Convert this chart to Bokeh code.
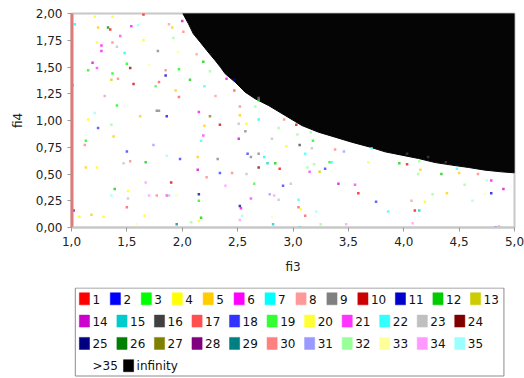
from bokeh.plotting import figure
from bokeh.layouts import column
from bokeh.models import Range1d, FixedTicker, ColumnDataSource
from bokeh.embed import file_html
from bokeh.resources import INLINE
from bokeh.core.properties import value

# ---------------- data ----------------
class_labels = [str(i) for i in range(1, 36)] + [">35", "infinity"]
class_colors = ["#FF0000", "#0000FF", "#00FF00", "#FFFF00", "#FFCC00", "#FF00FF", "#00FFFF",
                "#FF9999", "#808080", "#CC0000", "#0000CC", "#00CC00", "#CCCC00", "#CC00CC",
                "#00CCCC", "#404040", "#FF5050", "#3333FF", "#33FF33", "#FFFF33", "#FF33FF",
                "#33FFFF", "#C0C0C0", "#800000", "#000080", "#008000", "#808000", "#800080",
                "#008080", "#FF8080", "#9999FF", "#99FF99", "#FFFF99", "#FF99FF", "#99FFFF",
                "#FFFFFF", "#000000"]
legend_rows = [class_labels[0:13], class_labels[13:24], class_labels[24:35], class_labels[35:37]]

x_ticks = [1.0, 1.5, 2.0, 2.5, 3.0, 3.5, 4.0, 4.5, 5.0]
x_tick_labels = ["1,0", "1,5", "2,0", "2,5", "3,0", "3,5", "4,0", "4,5", "5,0"]
y_ticks = [0.0, 0.25, 0.5, 0.75, 1.0, 1.25, 1.5, 1.75, 2.0]
y_tick_labels = ["0,00", "0,25", "0,50", "0,75", "1,00", "1,25", "1,50", "1,75", "2,00"]

# boundary of the "infinity" region
boundary_fi3 = [2.005, 2.056, 2.10, 2.162, 2.222, 2.297, 2.345, 2.388, 2.478, 2.568, 2.658, 2.779,
                2.929, 3.080, 3.230, 3.381, 3.531, 3.700, 3.832, 3.983, 4.133, 4.284, 4.434,
                4.585, 4.735, 4.885, 5.0]
boundary_fi4 = [2.0, 1.904, 1.81, 1.732, 1.654, 1.561, 1.498, 1.436, 1.358, 1.265, 1.203, 1.140,
                1.047, 0.953, 0.891, 0.844, 0.797, 0.750, 0.707, 0.676, 0.645, 0.607, 0.583,
                0.561, 0.536, 0.520, 0.511]

# scattered points: fi3, fi4, class number
dot_fi3 = [1.21, 1.37, 1.65, 1.03, 1.24, 1.33, 1.35, 1.54, 1.60, 1.88, 1.91, 2.00, 2.01, 1.44, 1.65,
           1.23, 1.27, 1.37, 1.41, 1.92, 1.27, 1.48, 1.78, 1.96, 2.13, 1.19, 1.23, 1.50, 1.70, 1.53,
           2.19, 1.15, 1.37, 1.85, 1.97, 1.85, 2.25, 1.36, 1.42, 1.56, 1.79, 2.07, 1.01, 1.76, 1.94,
           2.20, 1.30, 1.97, 2.30, 1.41, 1.21, 1.77, 1.79, 1.62, 1.86, 2.15, 2.25, 1.15,
           2.40, 2.47, 2.47, 2.69, 2.69, 2.52, 2.66, 2.52, 2.58, 2.69, 2.92, 3.03, 2.34, 2.51, 2.57,
           2.87, 3.04, 3.16, 3.18, 2.51, 2.81, 2.94, 3.06, 3.17, 3.38,
           1.24, 1.36, 2.20, 1.13, 1.12, 1.38, 2.19, 2.17, 1.74, 1.50, 1.86, 1.53, 1.47, 1.67, 1.98,
           2.14, 2.32, 1.13, 1.23, 2.14, 2.22, 2.34, 1.67, 1.90, 1.39, 1.51, 1.36, 1.51, 1.70, 1.77,
           1.86, 1.88, 1.95, 2.15, 2.15, 1.50, 1.02, 1.07, 1.18, 1.29, 1.66, 1.59, 1.95, 2.08, 2.17,
           2.15,
           3.46, 2.59, 2.62, 2.69, 2.74, 3.11, 2.77, 2.84, 2.69, 2.88, 2.45, 2.58, 3.19, 3.13, 3.15,
           3.24, 3.29, 3.33, 3.35, 3.68, 2.65, 2.39, 2.98, 2.91, 3.41, 3.56, 3.59, 2.79, 2.83, 2.87,
           2.62, 3.05, 2.52, 2.53, 3.05, 3.07, 3.21, 3.11, 2.54, 2.52, 2.81, 2.82, 3.06, 3.25, 3.48,
           3.45,
           3.71, 4.03, 4.22, 3.96, 4.03, 4.14, 4.15, 4.13, 4.38, 4.34, 4.48, 4.50, 4.67, 4.75, 4.79,
           4.55, 4.90, 4.79, 4.73, 4.39, 4.62, 4.26, 3.75, 4.07, 4.19, 3.86, 4.10, 4.14, 4.08, 4.83,
           4.86]
dot_fi4 = [1.97, 1.97, 1.99, 1.90, 1.87, 1.87, 1.85, 1.88, 1.89, 1.90, 1.87, 1.93, 1.83, 1.79, 1.75,
           1.73, 1.70, 1.73, 1.69, 1.77, 1.65, 1.63, 1.65, 1.64, 1.62, 1.54, 1.49, 1.53, 1.52, 1.49,
           1.55, 1.47, 1.44, 1.47, 1.48, 1.42, 1.46, 1.38, 1.39, 1.34, 1.36, 1.38, 1.33, 1.32, 1.28,
           1.32, 1.23, 1.22, 1.23, 1.14, 1.07, 1.09, 1.09, 1.04, 1.04, 1.08, 1.04, 1.01,
           1.39, 1.38, 1.28, 1.21, 1.19, 1.13, 1.13, 1.05, 0.97, 1.01, 1.01, 0.96, 0.96, 0.97, 0.90,
           0.93, 0.87, 0.89, 0.81, 0.83, 0.83, 0.76, 0.77, 0.74, 0.73,
           0.93, 0.96, 0.95, 0.81, 0.77, 0.85, 0.86, 0.81, 0.77, 0.71, 0.67, 0.62, 0.60, 0.61, 0.64,
           0.66, 0.64, 0.56, 0.56, 0.54, 0.47, 0.51, 0.42, 0.42, 0.36, 0.34, 0.30, 0.27, 0.30, 0.30,
           0.30, 0.30, 0.30, 0.31, 0.25, 0.19, 0.16, 0.10, 0.12, 0.10, 0.11, 0.03, 0.03, 0.05, 0.09,
           0.06,
           0.71, 0.69, 0.66, 0.69, 0.66, 0.69, 0.60, 0.60, 0.56, 0.55, 0.51, 0.50, 0.59, 0.56, 0.52,
           0.52, 0.55, 0.61, 0.61, 0.61, 0.41, 0.39, 0.41, 0.39, 0.41, 0.40, 0.32, 0.31, 0.30, 0.26,
           0.27, 0.26, 0.20, 0.18, 0.19, 0.17, 0.15, 0.11, 0.11, 0.07, 0.10, 0.03, 0.00, 0.03, 0.03,
           0.00,
           0.74, 0.69, 0.66, 0.60, 0.59, 0.62, 0.54, 0.50, 0.61, 0.50, 0.55, 0.51, 0.50, 0.44, 0.44,
           0.40, 0.36, 0.32, 0.31, 0.32, 0.25, 0.31, 0.24, 0.25, 0.24, 0.15, 0.16, 0.16, 0.04, 0.00,
           0.01]
dot_class = [4, 4, 1, 7, 5, 26, 1, 6, 35, 8, 5, 14, 30, 21, 4,
             4, 6, 30, 23, 32, 6, 7, 9, 33, 8, 14, 21, 3, 33, 24,
             12, 3, 3, 30, 3, 11, 32, 13, 30, 10, 17, 12, 15, 19, 5,
             22, 8, 17, 8, 3, 35, 9, 9, 5, 2, 6, 27, 4,
             6, 11, 17, 9, 3, 30, 32, 5, 4, 7, 30, 10, 10, 23, 9,
             32, 32, 32, 3, 14, 23, 4, 16, 23, 30,
             18, 32, 5, 3, 30, 5, 21, 22, 31, 18, 35, 30, 23, 12, 18,
             5, 9, 5, 4, 14, 30, 18, 34, 10, 12, 4, 35, 23, 34, 30,
             21, 23, 33, 25, 3, 17, 28, 4, 5, 4, 4, 33, 29, 32, 12,
             4,
             31, 18, 9, 9, 7, 22, 15, 12, 24, 1, 30, 23, 32, 32, 21,
             13, 18, 3, 22, 20, 19, 34, 23, 18, 14, 21, 1, 31, 34, 23,
             21, 22, 25, 6, 17, 4, 35, 17, 35, 34, 33, 15, 15, 32, 34,
             33,
             22, 16, 16, 12, 1, 32, 5, 32, 16, 12, 22, 5, 30, 35, 6,
             32, 14, 11, 33, 5, 35, 32, 18, 8, 4, 22, 1, 15, 34, 18,
             8]

# column of class-1 points along fi3 = 1
edge_fi3 = [1.0, 1.0]
edge_fi4 = [0.0, 2.0]

FONT = "DejaVu Sans"

# ---------------- main plot ----------------
p = figure(width=524, height=287, x_range=Range1d(1, 5), y_range=Range1d(0, 2),
           output_backend="svg", toolbar_location=None,
           min_border_left=71, min_border_right=10, min_border_top=13, min_border_bottom=60,
           x_axis_label="fi3", y_axis_label="fi4")
p.grid.visible = False
p.background_fill_color = "white"
p.border_fill_color = "white"
p.outline_line_color = "#c8c8c8"
p.outline_line_width = 2

p.patch(x=boundary_fi3 + [5.0], y=boundary_fi4 + [2.0], fill_color="#050505", line_color="#050505")

src = ColumnDataSource(dict(x=dot_fi3, y=dot_fi4, c=[class_colors[k - 1] for k in dot_class]))
p.scatter("x", "y", source=src, marker="square", size=2.5, fill_color="c", line_color=None, fill_alpha=0.75)

p.line(edge_fi3, edge_fi4, line_color="#e07a7a", line_width=4)

p.xaxis.ticker = FixedTicker(ticks=x_ticks)
p.xaxis.major_label_overrides = dict(zip(x_ticks, x_tick_labels))
p.yaxis.ticker = FixedTicker(ticks=y_ticks)
p.yaxis.major_label_overrides = dict(zip(y_ticks, y_tick_labels))
for ax in (p.xaxis[0], p.yaxis[0]):
    ax.major_label_text_font = FONT
    ax.major_label_text_font_size = "12px"
    ax.major_label_text_color = "#222222"
    ax.axis_label_text_font = FONT
    ax.axis_label_text_font_size = "12px"
    ax.axis_label_text_font_style = "normal"
    ax.axis_label_text_color = "#222222"
    ax.major_tick_in = 0
    ax.major_tick_out = 4
    ax.minor_tick_in = 0
    ax.minor_tick_out = 0
    ax.major_tick_line_color = "#9a9a9a"
    ax.major_label_standoff = 5
    ax.axis_label_standoff = 8
p.xaxis.axis_label_standoff = 11
p.xaxis.axis_line_color = "#c8c8c8"
p.xaxis.axis_line_width = 2
p.yaxis.axis_line_color = "#e07a7a"
p.yaxis.axis_line_width = 2

# ---------------- legend ----------------
leg = figure(width=524, height=91, x_range=Range1d(0, 524), y_range=Range1d(378, 287),
             output_backend="svg", toolbar_location=None, min_border=0,
             x_axis_location=None, y_axis_location=None)
leg.grid.visible = False
leg.outline_line_color = None
leg.background_fill_color = "white"
leg.border_fill_color = "white"

leg.quad(left=4.5, right=511.5, top=287.5, bottom=375.5, fill_color=None, line_color="#8c8c8c", line_width=1)

sw_x, sw_y, sw_c, tx_x, tx_y, tx_t = [], [], [], [], [], []
row_y0, row_dy = 298.3, 22.3
x0, base_w, char_w = 9.3, 28.8, 7.8
for r, row in enumerate(legend_rows):
    x = x0
    cy = row_y0 + r * row_dy
    for lab in row:
        color = class_colors[class_labels.index(lab)]
        sw_x.append(x + 6)
        sw_y.append(cy)
        sw_c.append(color)
        tx_x.append(x + 15.5)
        tx_y.append(cy + 0.5)
        tx_t.append(lab)
        x += base_w + char_w * len(lab)

leg.rect(x=sw_x, y=sw_y, width=12, height=12, fill_color=sw_c, line_color=sw_c, line_alpha=0.5)
leg.text(x=tx_x, y=tx_y, text=tx_t, text_font=value(FONT), text_font_size="12px",
         text_baseline="middle", text_align="left", text_color="#111111")

layout = column(p, leg, spacing=0)
open("out.html", "w").write(file_html(layout, INLINE))
